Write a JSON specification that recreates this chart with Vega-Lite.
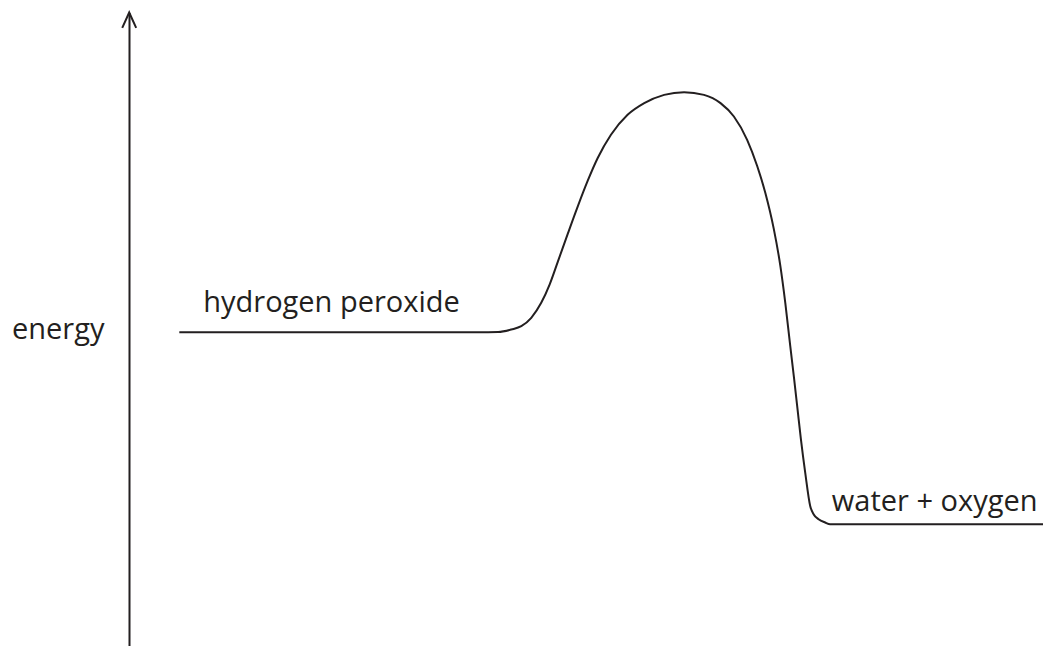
{
  "$schema": "https://vega.github.io/schema/vega-lite/v6.json",
  "width": 1047,
  "height": 647,
  "padding": 0,
  "autosize": {"type": "fit", "contains": "padding"},
  "background": "white",
  "config": {"view": {"stroke": null}},
  "datasets": {
    "axisline": [{"x": 130, "y": 0, "y2": 634}],
    "arrowhead": [
      {"x": 122.7, "y": 619, "o": 1},
      {"x": 129.7, "y": 634.5, "o": 2},
      {"x": 136.7, "y": 619, "o": 3}
    ],
    "curve": [
      {"x": 180, "energy": 314.3},
      {"x": 480, "energy": 314.3},
      {"x": 500, "energy": 314.5},
      {"x": 513.3, "energy": 317},
      {"x": 523.3, "energy": 320.3},
      {"x": 533.3, "energy": 328.7},
      {"x": 543.3, "energy": 343.7},
      {"x": 551.7, "energy": 362},
      {"x": 560, "energy": 385},
      {"x": 570, "energy": 413},
      {"x": 580, "energy": 440.3},
      {"x": 590, "energy": 466},
      {"x": 600, "energy": 488.7},
      {"x": 613.3, "energy": 512},
      {"x": 630, "energy": 532},
      {"x": 646.7, "energy": 543.7},
      {"x": 666.7, "energy": 552},
      {"x": 686.7, "energy": 554.7},
      {"x": 706.7, "energy": 552},
      {"x": 723.3, "energy": 543.7},
      {"x": 736.7, "energy": 530.3},
      {"x": 750, "energy": 507},
      {"x": 760, "energy": 481},
      {"x": 768.3, "energy": 453.7},
      {"x": 776.7, "energy": 418},
      {"x": 783.3, "energy": 381},
      {"x": 788.3, "energy": 343.7},
      {"x": 793.3, "energy": 300.3},
      {"x": 797, "energy": 269},
      {"x": 800.5, "energy": 238},
      {"x": 804, "energy": 207},
      {"x": 808.3, "energy": 173.7},
      {"x": 813.3, "energy": 140.3},
      {"x": 816.7, "energy": 132},
      {"x": 821.7, "energy": 127},
      {"x": 828.3, "energy": 123.7},
      {"x": 833.3, "energy": 122},
      {"x": 1047, "energy": 122}
    ],
    "labels": [
      {"x": 12, "y": 307, "text": "energy"},
      {"x": 204, "y": 335, "text": "hydrogen peroxide"},
      {"x": 835, "y": 135, "text": "water + oxygen"}
    ]
  },
  "layer": [
    {
      "data": {"name": "axisline"},
      "mark": {"type": "rule", "color": "#231f20", "strokeWidth": 2},
      "encoding": {
        "x": {"field": "x", "type": "quantitative", "scale": {"domain": [0, 1047], "nice": false, "zero": false}, "axis": null},
        "y": {"field": "y", "type": "quantitative", "scale": {"domain": [0, 647], "nice": false, "zero": false}, "axis": null},
        "y2": {"field": "y2"}
      }
    },
    {
      "data": {"name": "arrowhead"},
      "mark": {"type": "line", "color": "#231f20", "strokeWidth": 2, "strokeJoin": "miter", "interpolate": "linear"},
      "encoding": {
        "x": {"field": "x", "type": "quantitative", "scale": {"domain": [0, 1047], "nice": false, "zero": false}, "axis": null},
        "y": {"field": "y", "type": "quantitative", "scale": {"domain": [0, 647], "nice": false, "zero": false}, "axis": null},
        "order": {"field": "o", "type": "quantitative"}
      }
    },
    {
      "data": {"name": "curve"},
      "mark": {"type": "line", "color": "#231f20", "strokeWidth": 2, "interpolate": "monotone"},
      "encoding": {
        "x": {"field": "x", "type": "quantitative", "scale": {"domain": [0, 1047], "nice": false, "zero": false}, "axis": null},
        "y": {"field": "energy", "type": "quantitative", "scale": {"domain": [0, 647], "nice": false, "zero": false}, "axis": null}
      }
    },
    {
      "data": {"name": "labels"},
      "mark": {"type": "text", "align": "left", "baseline": "alphabetic", "font": "Open Sans", "fontSize": 29, "color": "#231f20"},
      "encoding": {
        "x": {"field": "x", "type": "quantitative", "scale": {"domain": [0, 1047], "nice": false, "zero": false}, "axis": null},
        "y": {"field": "y", "type": "quantitative", "scale": {"domain": [0, 647], "nice": false, "zero": false}, "axis": null},
        "text": {"field": "text"}
      }
    }
  ]
}
